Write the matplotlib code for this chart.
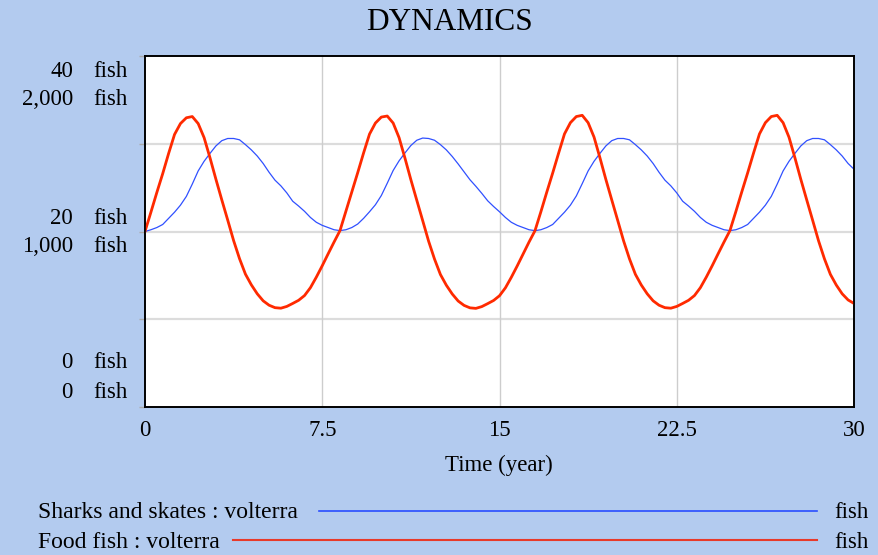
import numpy as np
import matplotlib
matplotlib.use("Agg")
import matplotlib.pyplot as plt
from matplotlib.lines import Line2D

plt.rcParams['font.family'] = ['Liberation Serif', 'DejaVu Serif']

# Simulation output (every 0.25 year)
time = np.arange(0, 30.001, 0.25)
sharks = [20.0,
          20.2, 20.45, 20.8, 21.5, 22.2, 23.0, 24.0, 25.4, 26.9, 28.0, 28.9,
          29.75, 30.35, 30.6, 30.6, 30.45, 29.9, 29.3, 28.6, 27.75, 26.75,
          25.85, 25.2, 24.4, 23.45, 22.9, 22.3, 21.6, 21.05, 20.7, 20.45,
          20.2, 20.1,
          20.2, 20.45, 20.85, 21.5, 22.25, 23.05, 24.1, 25.5, 26.95, 28.05,
          28.95, 29.8, 30.4, 30.65, 30.6, 30.4, 29.9, 29.3, 28.55, 27.7, 26.8,
          25.9, 25.15, 24.35, 23.5, 22.85, 22.25, 21.6, 21.05, 20.7, 20.45,
          20.2, 20.1,
          20.2, 20.45, 20.8, 21.5, 22.2, 23.0, 24.05, 25.45, 26.9, 28.0, 28.9,
          29.75, 30.35, 30.6, 30.6, 30.45, 29.9, 29.3, 28.6, 27.75, 26.75,
          25.85, 25.2, 24.4, 23.45, 22.9, 22.3, 21.6, 21.05, 20.7, 20.45,
          20.2, 20.1,
          20.2, 20.45, 20.8, 21.5, 22.2, 23.0, 24.0, 25.4, 26.9, 28.0, 28.9,
          29.75, 30.35, 30.6, 30.6, 30.45, 29.9, 29.3, 28.6, 27.75, 27.1]
food_fish = [1000,
             1110, 1222, 1330, 1445, 1553, 1615, 1648, 1655, 1615, 1535, 1420,
             1298, 1180, 1065, 948, 845, 757, 696, 645, 605, 580, 566, 563,
             573, 590, 608, 635, 680, 740, 805, 873, 940, 1005,
             1115, 1225, 1335, 1448, 1555, 1618, 1652, 1658, 1618, 1535, 1418,
             1295, 1178, 1062, 945, 843, 755, 694, 644, 604, 579, 565, 562,
             572, 589, 607, 634, 679, 739, 804, 872, 940, 1004,
             1112, 1224, 1333, 1446, 1556, 1620, 1655, 1662, 1620, 1538, 1420,
             1297, 1180, 1064, 947, 844, 756, 695, 645, 605, 580, 566, 563,
             573, 590, 608, 635, 680, 740, 805, 873, 940, 1005,
             1113, 1225, 1334, 1447, 1556, 1620, 1655, 1662, 1620, 1537, 1420,
             1297, 1180, 1064, 947, 844, 756, 695, 645, 610, 590]

shark_ticks = [0, 20, 40]
shark_labels = ['0', '20', '40']
food_labels = ['0', '1,000', '2,000']
x_ticks = [0, 7.5, 15, 22.5, 30]
x_labels = ['0', '7.5', '15', '22.5', '30']

bg = '#b3cbef'
blue = '#3050ff'
red = '#ff2a00'
W, H = 879, 555

fig = plt.figure(figsize=(8.79, 5.55), dpi=100, facecolor=bg)
ax = fig.add_axes([145 / W, 1 - 407 / H, 709 / W, 351 / H])
ax.set_facecolor('white')

ax.plot(time, sharks, color=blue, linewidth=0.9)
ax.set_xlim(0, 30)
ax.set_ylim(0, 40)

ax2 = ax.twinx()
ax2.plot(time, food_fish, color=red, linewidth=2.0)
ax2.set_ylim(0, 2000)
ax2.set_yticks([])

# grid
for v in [10, 20, 30]:
    ax.axhline(v, color='#dcdcdc', linewidth=1.6, zorder=0)
for v in x_ticks[1:-1]:
    ax.axvline(v, color='#cdcdcd', linewidth=1.0, zorder=0)

for a in (ax, ax2):
    for s in a.spines.values():
        s.set_color('black')
        s.set_linewidth(1.2)

ax.set_xticks(x_ticks)
ax.set_xticklabels(x_labels, fontsize=16.5)
ax.tick_params(axis='x', length=0, pad=9)
ax.set_yticks([0, 10, 20, 30, 40])
ax.set_yticklabels([])
ax.tick_params(axis='y', length=4, color='#aaaaaa', width=1)

fig.text(499 / W, 1 - 471 / H, 'Time (year)', ha='center', va='baseline', fontsize=16.5)

# stacked y labels (sharks above, food fish below); baseline offsets in pixels
offsets = {0: (-38.5, -8.5), 20: (-8, 20.5), 40: (21, 49)}
for tv, sl, fl in zip(shark_ticks, shark_labels, food_labels):
    for lab, dy in zip([sl, fl], offsets[tv]):
        ax.annotate(lab, xy=(0, tv), xycoords=('axes fraction', 'data'),
                    xytext=(-72, -dy), textcoords='offset pixels',
                    ha='right', va='baseline', fontsize=16.5)
        ax.annotate('fish', xy=(0, tv), xycoords=('axes fraction', 'data'),
                    xytext=(-52, -dy), textcoords='offset pixels',
                    ha='left', va='baseline', fontsize=16.5)

fig.text(450 / W, 1 - 29.5 / H, 'DYNAMICS', ha='center', va='baseline', fontsize=22.5)

# legend
rows = [('Sharks and skates : volterra', '#2a4dff', 319, 511, 518, 1.2),
        ('Food fish : volterra', '#e83a2a', 233, 539.5, 548, 1.5)]
for name, col, x0, yl, yb, lw in rows:
    fig.text(38 / W, 1 - yb / H, name, ha='left', va='baseline', fontsize=17)
    fig.add_artist(Line2D([x0 / W, 817 / W], [1 - yl / H, 1 - yl / H],
                          color=col, linewidth=lw))
    fig.text(834 / W, 1 - yb / H, 'fish', ha='left', va='baseline', fontsize=16.5)

fig.savefig('out.png', dpi=100, facecolor=bg)
